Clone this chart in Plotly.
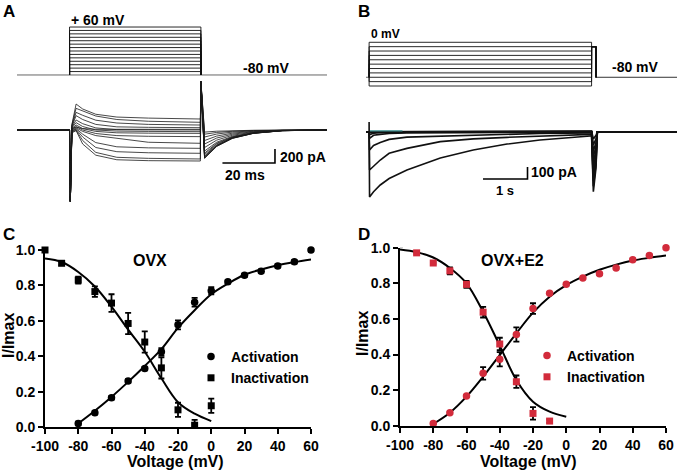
import plotly.graph_objects as go

W, H = 677, 471
FONT = "Liberation Sans, Arial, sans-serif"
RED = "#d22b3b"

# ---------------- Panel A: voltage protocol (mV) and current traces (pA) -------------
A_STEP_V = [-70, -60, -50, -40, -30, -20, -10, 0, 10, 20, 30, 40, 50, 60]
A_HOLD_V = -80
A_STEP_T = [0, 50]          # ms
A_T_RANGE = [-20, 98]       # ms

A_T = [-20, 0, 0.3, 0.9, 2.5, 5, 10, 18, 30, 49.8, 50.0, 51.4, 56, 62, 70, 81, 98]
A_I = [
    [0, 0, -1020, 80, 371, 300, 225, 185, 170, 157, 690, -405, -235, -120, -48, -10, 0],
    [0, 0, -1020, 70, 309, 270, 200, 150, 125, 110, 690, -400, -232, -118, -47, -10, 0],
    [0, 0, -1020, 60, 252, 210, 140, 100, 80, 71, 690, -390, -226, -115, -46, -10, 0],
    [0, 0, -1020, 50, 205, 150, 80, 45, 38, 33, 690, -380, -220, -112, -45, -9, 0],
    [0, 0, -1020, 40, 143, 90, 30, 5, 2, 0, 690, -370, -215, -110, -44, -9, 0],
    [0, 0, -1020, 30, 105, 50, 0, -15, -20, -24, 690, -350, -200, -104, -42, -9, 0],
    [0, 0, -1020, 20, 71, 20, -20, -40, -45, -48, 690, -330, -190, -98, -40, -8, 0],
    [0, 0, -1020, 10, 50, 0, -50, -80, -90, -95, 690, -300, -175, -90, -36, -7, 0],
    [0, 0, -1020, 0, 30, -20, -80, -120, -175, -190, 690, -250, -145, -75, -30, -6, 0],
    [0, 0, -1020, -10, 20, -60, -180, -240, -255, -262, 690, -200, -115, -60, -24, -5, 0],
    [0, 0, -1020, -20, 10, -100, -250, -310, -325, -333, 690, -150, -87, -45, -18, -4, 0],
    [0, 0, -1020, -30, 0, -150, -320, -390, -405, -414, 690, -100, -58, -30, -12, -3, 0],
    [0, 0, -1020, -40, -10, -200, -360, -425, -438, -443, 690, -60, -35, -18, -7, -2, 0],
    [0, 0, -1020, 20, 40, 20, 10, 10, 10, 10, 690, -30, -17, -9, -4, -1, 0],
]
A_SCALE_T = 20     # ms
A_SCALE_I = 200    # pA

# ---------------- Panel B -------------
B_STEP_V = [0, -10, -20, -30, -40, -50, -60, -70, -80, -90, -100]
B_HOLD_V = -80
B_TEST_V = -10
B_STEP_T = [0, 5.0]      # s
B_TEST_T = [5.0, 5.1]    # s
B_T_RANGE = [-0.07, 6.92]

B_T = [-0.07, 0, 0, 0.01, 0.1, 0.25, 0.45, 0.85, 1.6, 2.34, 3.1, 3.84, 4.97, 5.0, 5.04, 5.1, 5.13, 6.92]
B_I = [
    [0, 0, 80, -544, -500, -444, -390, -319, -219, -153, -103, -69, -36, -36, -500, -300, 0, 0],
    [0, 0, 0, -319, -285, -236, -180, -139, -83, -60, -47, -35, -22, -22, -455, -270, 0, 0],
    [0, 0, 0, -153, -115, -90, -64, -45, -36, -28, -20, -15, -11, -11, -410, -240, 0, 0],
    [0, 0, 0, -55, -30, -22, -15, -10, -8, -6, -5, -5, -5, -5, -360, -210, 0, 0],
    [0, 0, 0, -25, -12, -8, -6, -5, -4, -4, -3, -3, -3, -3, -310, -180, 0, 0],
    [0, 0, 0, -8, -4, -3, -2, -2, -2, -2, -2, -2, -2, -2, -260, -150, 0, 0],
    [0, 0, 0, -3, -1, 0, 0, 0, 0, 0, 0, 0, 0, 0, -210, -120, 0, 0],
    [0, 0, 0, 0, 0, 0, 0, 0, 0, 0, 0, 0, 0, 0, -160, -90, 0, 0],
    [0, 0, 0, 3, 3, 3, 3, 3, 3, 3, 3, 3, 3, 3, -110, -60, 0, 0],
    [0, 0, 0, 5, 5, 5, 5, 5, 5, 5, 5, 5, 5, 5, -60, -30, 0, 0],
]
B_TEAL_T = [0.02, 0.75]
B_TEAL_I = [7, 7]
B_SCALE_T = 1      # s
B_SCALE_I = 100    # pA

# ---------------- Panel C (OVX) -------------
C_V_ACT = [-80, -70, -60, -50, -40, -30, -20, -10, 0, 10, 20, 30, 40, 50, 60]
C_ACT = [0.02, 0.08, 0.165, 0.26, 0.33, 0.425, 0.577, 0.705, 0.77, 0.82, 0.857, 0.88, 0.91, 0.933, 1.0]
C_ACT_ERR = [0.01, 0.01, 0.01, 0.01, 0.01, 0.02, 0.025, 0.025, 0.02, 0.01, 0.01, 0.01, 0.01, 0.01, 0.01]
C_V_INA = [-100, -90, -80, -70, -60, -50, -40, -30, -20, -10, 0]
C_INA = [1.0, 0.925, 0.83, 0.765, 0.70, 0.585, 0.48, 0.334, 0.097, 0.01, 0.12]
C_INA_ERR = [0.01, 0.01, 0.02, 0.03, 0.05, 0.06, 0.06, 0.06, 0.04, 0.03, 0.04]
C_FIT_ACT_V = [-80, -70, -60, -50, -40, -30, -20, -10, 0, 10, 20, 30, 40, 50, 60]
C_FIT_ACT = [0.02, 0.092, 0.17, 0.255, 0.345, 0.44, 0.56, 0.66, 0.75, 0.81, 0.86, 0.89, 0.914, 0.932, 0.947]
C_FIT_INA_V = [-100, -90, -80, -70, -60, -50, -40, -30, -20, -10, 0]
C_FIT_INA = [0.952, 0.932, 0.876, 0.794, 0.68, 0.55, 0.425, 0.275, 0.14, 0.075, 0.033]

# ---------------- Panel D (OVX+E2) -------------
D_V_ACT = [-80, -70, -60, -50, -40, -30, -20, -10, 0, 10, 20, 30, 40, 50, 60]
D_ACT = [0.013, 0.073, 0.167, 0.294, 0.373, 0.512, 0.658, 0.744, 0.794, 0.83, 0.853, 0.886, 0.933, 0.956, 1.0]
D_ACT_ERR = [0.005, 0.005, 0.005, 0.035, 0.04, 0.04, 0.03, 0.005, 0.005, 0.005, 0.005, 0.005, 0.005, 0.005, 0.005]
D_V_INA = [-100, -90, -80, -70, -60, -50, -40, -30, -20, -10]
D_INA = [1.01, 0.971, 0.914, 0.87, 0.794, 0.638, 0.459, 0.247, 0.069, 0.026]
D_INA_ERR = [0.005, 0.005, 0.005, 0.02, 0.02, 0.03, 0.035, 0.035, 0.035, 0.01]
D_FIT_ACT_V = [-80, -70, -60, -50, -40, -30, -20, -10, 0, 10, 20, 30, 40, 50, 60]
D_FIT_ACT = [0.01, 0.073, 0.163, 0.275, 0.397, 0.519, 0.635, 0.725, 0.79, 0.838, 0.876, 0.905, 0.928, 0.943, 0.956]
D_FIT_INA_V = [-100, -90, -80, -70, -60, -50, -40, -30, -20, -10, 0]
D_FIT_INA = [0.99, 0.975, 0.945, 0.886, 0.80, 0.64, 0.45, 0.257, 0.135, 0.079, 0.05]

X_TICKS = [-100, -80, -60, -40, -20, 0, 20, 40, 60]
X_TICK_TEXT = ["-100", "-80", "-60", "-40", "-20", "0", "20", "40", "60"]
Y_TICKS = [0.0, 0.2, 0.4, 0.6, 0.8, 1.0]
Y_TICK_TEXT = ["0.0", "0.2", "0.4", "0.6", "0.8", "1.0"]


def px(x):
    return x / W


def py(y):
    return 1 - y / H


def b(t):
    return "<b>" + t + "</b>"


fig = go.Figure()

# ---- A protocol (x1/y1)
fig.add_trace(go.Scatter(x=A_T_RANGE, y=[A_HOLD_V, A_HOLD_V], mode="lines",
                         line=dict(color="#666666", width=1), xaxis="x", yaxis="y",
                         showlegend=False, hoverinfo="skip"))
for v in A_STEP_V:
    fig.add_trace(go.Scatter(x=[A_STEP_T[0], A_STEP_T[0], A_STEP_T[1], A_STEP_T[1]],
                             y=[A_HOLD_V, v, v, A_HOLD_V], mode="lines",
                             line=dict(color="#111111", width=0.9), xaxis="x", yaxis="y",
                             showlegend=False, hoverinfo="skip"))

# ---- A currents (x2/y2)
for tr in A_I:
    fig.add_trace(go.Scatter(x=A_T, y=tr, mode="lines",
                             line=dict(color="#1a1a1a", width=0.8), xaxis="x2", yaxis="y2",
                             showlegend=False, hoverinfo="skip"))
a_sx0, a_sy0 = 58.2, -471
fig.add_trace(go.Scatter(x=[a_sx0, a_sx0 + A_SCALE_T, a_sx0 + A_SCALE_T],
                         y=[a_sy0, a_sy0, a_sy0 + A_SCALE_I], mode="lines",
                         line=dict(color="black", width=1.6), xaxis="x2", yaxis="y2",
                         showlegend=False, hoverinfo="skip"))

# ---- B protocol (x3/y3)
fig.add_trace(go.Scatter(x=[B_T_RANGE[0], B_STEP_T[0]], y=[B_HOLD_V, B_HOLD_V], mode="lines",
                         line=dict(color="#666666", width=1), xaxis="x3", yaxis="y3",
                         showlegend=False, hoverinfo="skip"))
fig.add_trace(go.Scatter(x=[B_TEST_T[1], B_T_RANGE[1]], y=[B_HOLD_V, B_HOLD_V], mode="lines",
                         line=dict(color="#333333", width=1), xaxis="x3", yaxis="y3",
                         showlegend=False, hoverinfo="skip"))
for v in B_STEP_V:
    fig.add_trace(go.Scatter(
        x=[B_STEP_T[0], B_STEP_T[0], B_STEP_T[1], B_STEP_T[1], B_TEST_T[1], B_TEST_T[1]],
        y=[B_HOLD_V, v, v, B_TEST_V, B_TEST_V, B_HOLD_V], mode="lines",
        line=dict(color="#111111", width=0.9), xaxis="x3", yaxis="y3",
        showlegend=False, hoverinfo="skip"))

# ---- B currents (x4/y4)
for tr in B_I:
    fig.add_trace(go.Scatter(x=B_T, y=tr, mode="lines",
                             line=dict(color="#111111", width=1.6), xaxis="x4", yaxis="y4",
                             showlegend=False, hoverinfo="skip"))
fig.add_trace(go.Scatter(x=B_TEAL_T, y=B_TEAL_I, mode="lines",
                         line=dict(color="#3a8f8f", width=1.3), xaxis="x4", yaxis="y4",
                         showlegend=False, hoverinfo="skip"))
b_sx0, b_sy0 = 2.56, -394
fig.add_trace(go.Scatter(x=[b_sx0, b_sx0 + B_SCALE_T, b_sx0 + B_SCALE_T],
                         y=[b_sy0, b_sy0, b_sy0 + B_SCALE_I], mode="lines",
                         line=dict(color="black", width=1.6), xaxis="x4", yaxis="y4",
                         showlegend=False, hoverinfo="skip"))


# ---- C and D
def add_iv(xa, ya, va, ia, ea, vi, ii, ei, fva, fa, fvi, fi, color, legend):
    for fx, fy in ((fva, fa), (fvi, fi)):
        fig.add_trace(go.Scatter(x=fx, y=fy, mode="lines", line=dict(color="black", width=2, shape="spline", smoothing=1),
                                 xaxis=xa, yaxis=ya, showlegend=False, hoverinfo="skip", cliponaxis=False))
    for vx, iy, ee in ((va, ia, ea), (vi, ii, ei)):
        fig.add_trace(go.Scatter(x=vx, y=iy, mode="markers",
                                 marker=dict(size=1, color="rgba(0,0,0,0)"),
                                 error_y=dict(type="data", array=ee, color="black", thickness=1.8, width=3),
                                 xaxis=xa, yaxis=ya, showlegend=False, hoverinfo="skip", cliponaxis=False))
    fig.add_trace(go.Scatter(x=va, y=ia, mode="markers", name=b("Activation"),
                             marker=dict(symbol="circle", size=7.5, color=color),
                             xaxis=xa, yaxis=ya, legend=legend, cliponaxis=False))
    fig.add_trace(go.Scatter(x=vi, y=ii, mode="markers", name=b("Inactivation"),
                             marker=dict(symbol="square", size=7, color=color),
                             xaxis=xa, yaxis=ya, legend=legend, cliponaxis=False))


add_iv("x5", "y5", C_V_ACT, C_ACT, C_ACT_ERR, C_V_INA, C_INA, C_INA_ERR,
       C_FIT_ACT_V, C_FIT_ACT, C_FIT_INA_V, C_FIT_INA, "black", "legend")
add_iv("x6", "y6", D_V_ACT, D_ACT, D_ACT_ERR, D_V_INA, D_INA, D_INA_ERR,
       D_FIT_ACT_V, D_FIT_ACT, D_FIT_INA_V, D_FIT_INA, RED, "legend2")

hidden = dict(visible=False, showgrid=False, zeroline=False, fixedrange=True, automargin=False)
iv_x = dict(range=[-100, 60], tickvals=X_TICKS, ticktext=[b(t) for t in X_TICK_TEXT],
            ticks="outside", ticklen=5, tickwidth=2,
            tickcolor="black", showline=True, linewidth=2, linecolor="black",
            showgrid=False, zeroline=False, tickfont=dict(family=FONT, size=14, color="black"),
            automargin=False)
iv_y = dict(range=[0, 1.0], tickvals=Y_TICKS, ticktext=[b(t) for t in Y_TICK_TEXT],
            ticks="outside", ticklen=5,
            tickwidth=2, tickcolor="black", showline=True, linewidth=2, linecolor="black",
            showgrid=False, zeroline=False, tickfont=dict(family=FONT, size=14, color="black"),
            automargin=False)

fig.update_layout(
    template="none",
    width=W, height=H, margin=dict(l=0, r=0, t=0, b=0, pad=0, autoexpand=False),
    paper_bgcolor="white", plot_bgcolor="rgba(0,0,0,0)",
    font=dict(family=FONT, color="black"),
    xaxis=dict(domain=[px(17), px(327)], range=A_T_RANGE, anchor="y", **hidden),
    yaxis=dict(domain=[py(78.4), py(23.6)], range=[-90, 70], anchor="x", **hidden),
    xaxis2=dict(domain=[px(17), px(327)], range=A_T_RANGE, anchor="y2", **hidden),
    yaxis2=dict(domain=[py(207), py(79.6)], range=[-1100, 720], anchor="x2", **hidden),
    xaxis3=dict(domain=[px(366), px(677)], range=B_T_RANGE, anchor="y3", **hidden),
    yaxis3=dict(domain=[py(88.2), py(40.1)], range=[-105, 5], anchor="x3", **hidden),
    xaxis4=dict(domain=[px(366), px(677)], range=B_T_RANGE, anchor="y4", **hidden),
    yaxis4=dict(domain=[py(198.9), py(120.9)], range=[-560, 90], anchor="x4", **hidden),
    xaxis5=dict(domain=[px(45), px(311)], anchor="y5", **iv_x),
    yaxis5=dict(domain=[py(427), py(250)], anchor="x5", **iv_y),
    xaxis6=dict(domain=[px(400), px(666)], anchor="y6", **iv_x),
    yaxis6=dict(domain=[py(425.7), py(247.7)], anchor="x6", **iv_y),
    legend=dict(x=px(191), y=py(341), xanchor="left", yanchor="top",
                font=dict(family=FONT, size=14, color="black"),
                bgcolor="rgba(0,0,0,0)", borderwidth=0, tracegroupgap=0),
    legend2=dict(x=px(527), y=py(340), xanchor="left", yanchor="top",
                 font=dict(family=FONT, size=14, color="black"),
                 bgcolor="rgba(0,0,0,0)", borderwidth=0, tracegroupgap=0),
)


def ann(text, x, y, size, xanchor="left", angle=0):
    fig.add_annotation(text=b(text), x=px(x), y=py(y), xref="paper", yref="paper",
                       xanchor=xanchor, yanchor="middle", showarrow=False, textangle=angle,
                       font=dict(family=FONT, size=size, color="black"))


ann("A", 1, 12, 17)
ann("B", 356, 12, 17)
ann("C", 1, 234, 17)
ann("D", 356, 234, 17)
ann("+ 60 mV", 69, 20, 14)
ann("-80 mV", 241, 68, 14)
ann("0 mV", 369, 34, 12)
ann("-80 mV", 610, 67, 14)
ann("200 pA", 278, 157, 14)
ann("20 ms", 223, 175, 14)
ann("100 pA", 529, 172, 14)
ann("1 s", 494, 190, 13)
ann("OVX", 150, 260, 16, "center")
ann("OVX+E2", 512, 260, 16, "center")
ann("Voltage (mV)", 176, 461, 16, "center")
ann("Voltage (mV)", 528, 461, 16, "center")
ann("I/Imax", 8, 336, 16, "center", -90)
ann("I/Imax", 362, 334, 16, "center", -90)

fig.write_html(
    "out.html",
    config={"displayModeBar": False},
    post_script="document.documentElement.style.margin='0';document.body.style.margin='0';document.body.style.padding='0';",
)
